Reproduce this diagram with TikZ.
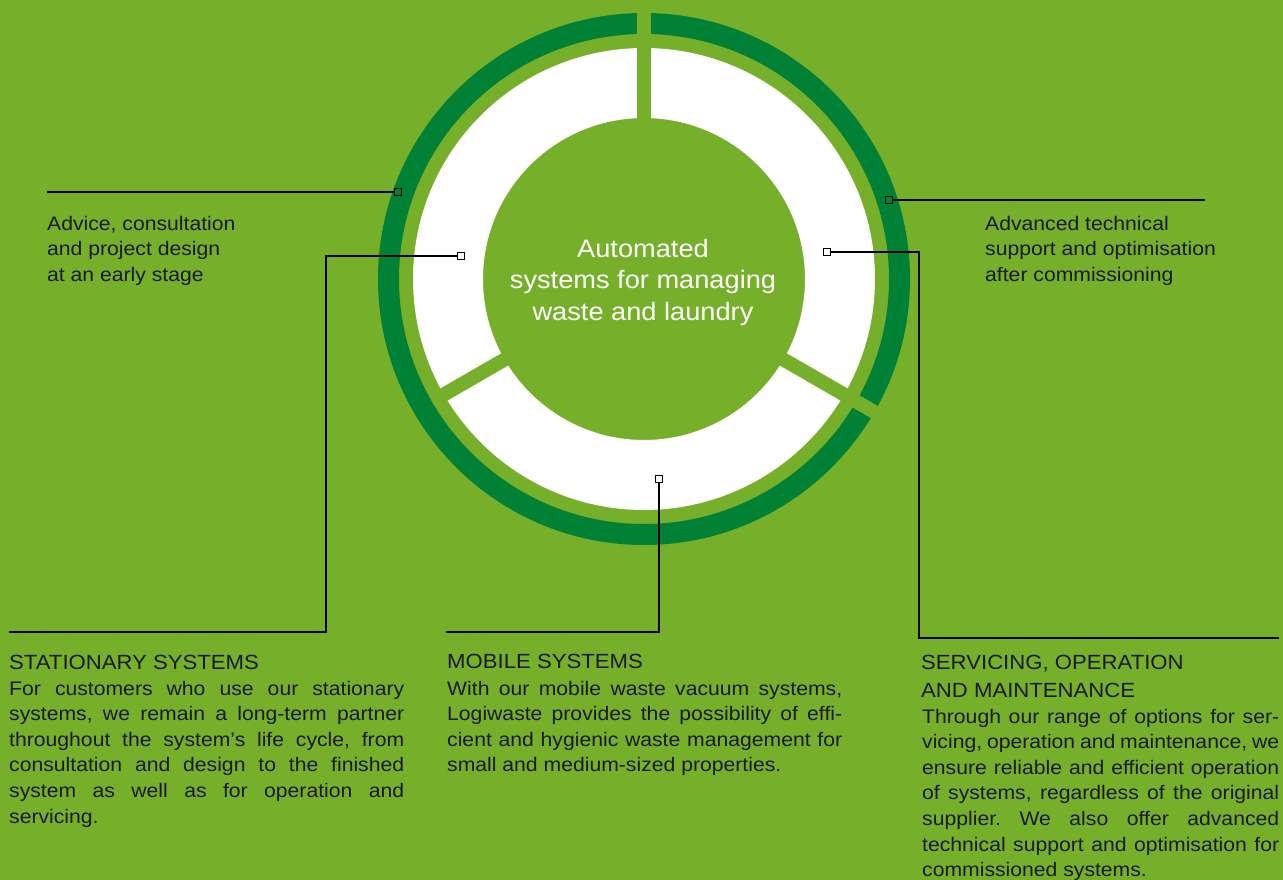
\documentclass[tikz,border=0pt]{standalone}
\usepackage{fontspec}
\setmainfont{Liberation Sans}[FakeStretch=1.08]
\definecolor{bg}{HTML}{76AF2A}
\definecolor{ring}{HTML}{008136}
\definecolor{ink}{HTML}{1A1A1A}
\frenchspacing
\begin{document}
\begin{tikzpicture}[x=1pt,y=-1pt,
  txt/.style={font=\fontsize{19.6}{25.6}\selectfont, text=ink, inner sep=0, anchor=base west},
  head/.style={font=\fontsize{20.5}{26}\selectfont, text=ink, inner sep=0, anchor=base west},
  ctr/.style={font=\fontsize{25.2}{31.5}\selectfont, text=white, inner sep=0, anchor=base},
  sq/.style={draw=black, line width=1.3pt, rectangle, minimum size=7pt, inner sep=0},
  conn/.style={draw=black, line width=1.5pt},
  gapbar/.style={fill=bg}]
\fill[bg] (0,0) rectangle (1283,880);
\useasboundingbox (0,0) rectangle (1283,880);
\coordinate (C) at (644,279);
% rings
\fill[ring, even odd rule] (C) circle[radius=266pt] (C) circle[radius=245pt];
\fill[white, even odd rule] (C) circle[radius=231pt] (C) circle[radius=161pt];
\begin{scope}[shift={(C)}]
  \fill[gapbar, rotate=90] (0,-7) rectangle (272,7);
  \fill[gapbar, rotate=-30] (0,-7) rectangle (272,7);
  \fill[gapbar, rotate=210] (0,-7) rectangle (238,7);
\end{scope}
% centre text
\node[ctr] (c1) at (643,257) {Automated};
\node[ctr] (c2) at (643,288.5) {systems for managing};
\node[ctr] (c3) at (643,320) {waste and laundry};
% top texts
\node[txt] (a1) at (47,230) {Advice, consultation};
\node[txt] (a2) at (47,255.6) {and project design};
\node[txt] (a3) at (47,281.2) {at an early stage};
\node[txt] (r1) at (985,230) {Advanced technical};
\node[txt] (r2) at (985,255.6) {support and optimisation};
\node[txt] (r3) at (985,281.2) {after commissioning};
% squares
\node[sq] (sqA) at (398,192) {};
\node[sq] (sqB) at (461,256) {};
\node[sq] (sqC) at (889,200) {};
\node[sq] (sqD) at (827,252) {};
\node[sq] (sqE) at (659,479) {};
% free ends
\coordinate (pA) at (47,192);
\coordinate (pB1) at (326,632);
\coordinate (pB2) at (9,632);
\coordinate (pC) at (1205,200);
\coordinate (pD1) at (919,638);
\coordinate (pD2) at (1279,638);
\coordinate (pE) at (446,632);
% connectors
\draw[conn] (pA) -- (sqA);
\draw[conn] (sqB.west) -| (pB1) -- (pB2);
\draw[conn] (sqC) -- (pC);
\draw[conn] (sqD.east) -| (pD1) -- (pD2);
\draw[conn] (sqE.south) |- (pE);
% left column
\node[head] (hL) at (9,669) {STATIONARY SYSTEMS};
\foreach \t [count=\i from 0] in {{For customers who use our stationary},{systems, we remain a long-term partner},{throughout the system’s life cycle, from},{consultation and design to the finished},{system as well as for operation and}}
  \node[txt] (L\i) at (9,{695+25.6*\i}) {\makebox[395pt][s]{\t}};
\node[txt] (L5) at (9,823) {servicing.};
% middle column
\node[head] (hM) at (447,668) {MOBILE SYSTEMS};
\foreach \t [count=\i from 0] in {{With our mobile waste vacuum systems,},{Logiwaste provides the possibility of effi-},{cient and hygienic waste management for}}
  \node[txt] (M\i) at (447,{695+25.6*\i}) {\makebox[395pt][s]{\t}};
\node[txt] (M3) at (447,771.8) {small and medium-sized properties.};
% right column
\node[head] (hR1) at (921,669) {SERVICING, OPERATION};
\node[head] (hR2) at (921,697) {AND MAINTENANCE};
\foreach \t [count=\i from 0] in {{Through our range of options for ser-},{vicing, operation and maintenance, we},{ensure reliable and efficient operation},{of systems, regardless of the original},{supplier. We also offer advanced},{technical support and optimisation for}}
  \node[txt] (R\i) at (922,{723+25.6*\i}) {\makebox[357pt][s]{\t}};
\node[txt] (R6) at (922,876.6) {commissioned systems.};
\end{tikzpicture}
\end{document}
